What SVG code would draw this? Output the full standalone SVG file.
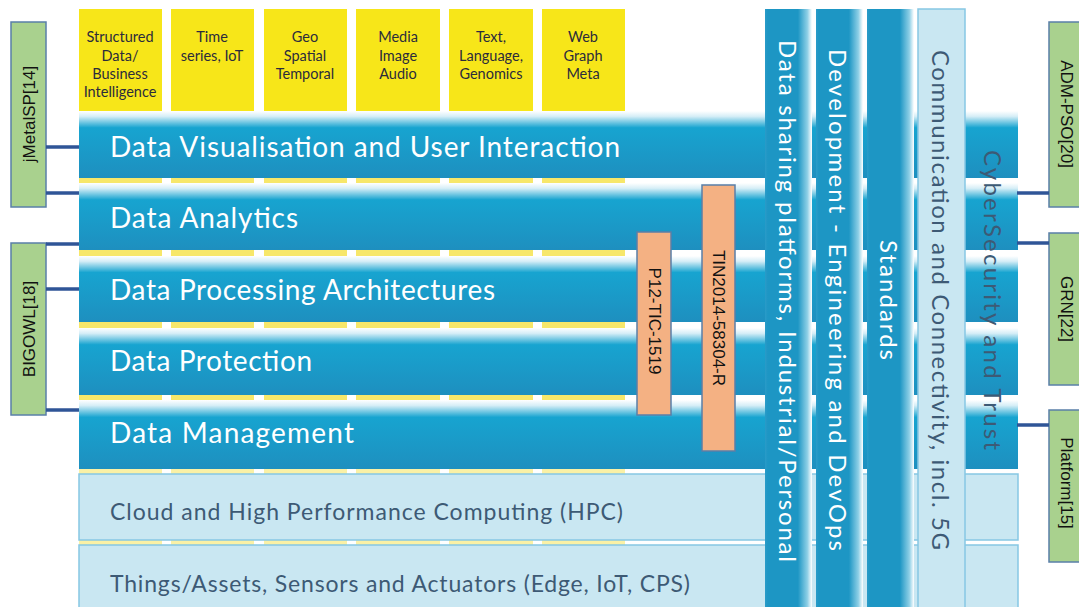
<svg xmlns="http://www.w3.org/2000/svg" width="1079" height="607" viewBox="0 0 1079 607">
<defs>
<linearGradient id="band" x1="0" y1="0" x2="0" y2="1">
<stop offset="0" stop-color="#ffffff"/>
<stop offset="0.08" stop-color="#d6eef7"/>
<stop offset="0.25" stop-color="#17a4d0"/>
<stop offset="1" stop-color="#1e8fbf"/>
</linearGradient>
<linearGradient id="col" x1="0" y1="0" x2="1" y2="0">
<stop offset="0" stop-color="#2a9bc8"/>
<stop offset="0.06" stop-color="#1d96c4"/>
<stop offset="0.7" stop-color="#1d96c4"/>
<stop offset="0.9" stop-color="#8dcfe6"/>
<stop offset="1" stop-color="#ffffff"/>
</linearGradient>
<style>
.yb{fill:#f7e619}
.ys{fill:#f7e76a}
.band{fill:url(#band)}
.lb{fill:#c9e7f2;stroke:#86c7e4;stroke-width:1.5}
.col{fill:url(#col)}
.green{fill:#a9d18e;stroke:#5a7fa8;stroke-width:1.5}
.orange{fill:#f4b183;stroke:#5a7fa8;stroke-width:1.5}
.conn{stroke:#2f5597;stroke-width:3.5;fill:none}
.yt{font-family:Lato,"Liberation Sans",sans-serif;font-size:14.5px;fill:#2b2b3c;text-anchor:middle}
.bt{font-family:Lato,"Liberation Sans",sans-serif;font-size:28px;fill:#ffffff}
.lt{font-family:Lato,"Liberation Sans",sans-serif;font-size:23px;fill:#3d5a75}
.vt{font-family:Lato,"Liberation Sans",sans-serif;font-size:24px;fill:#ffffff;text-anchor:middle;dominant-baseline:central}
.vd{font-family:Lato,"Liberation Sans",sans-serif;font-size:24px;fill:#3d5a75;text-anchor:middle;dominant-baseline:central}
.gt{font-family:"Liberation Sans",sans-serif;font-size:17px;fill:#111111;text-anchor:middle;dominant-baseline:central}
</style>
</defs>
<rect width="1079" height="607" fill="#ffffff"/>

<g id="data-types">
<rect class="yb" x="79" y="9" width="83" height="170"/>
<rect class="yb" x="171" y="9" width="83" height="170"/>
<rect class="yb" x="264" y="9" width="83" height="170"/>
<rect class="yb" x="356" y="9" width="84" height="170"/>
<rect class="yb" x="449" y="9" width="84" height="170"/>
<rect class="yb" x="542" y="9" width="83" height="170"/>
<g id="strips">
<rect class="ys" x="79" y="178" width="83" height="6"/><rect class="ys" x="171" y="178" width="83" height="6"/><rect class="ys" x="264" y="178" width="83" height="6"/><rect class="ys" x="356" y="178" width="84" height="6"/><rect class="ys" x="449" y="178" width="84" height="6"/><rect class="ys" x="542" y="178" width="83" height="6"/>
<rect class="ys" x="79" y="250" width="83" height="6"/><rect class="ys" x="171" y="250" width="83" height="6"/><rect class="ys" x="264" y="250" width="83" height="6"/><rect class="ys" x="356" y="250" width="84" height="6"/><rect class="ys" x="449" y="250" width="84" height="6"/><rect class="ys" x="542" y="250" width="83" height="6"/>
<rect class="ys" x="79" y="322" width="83" height="6"/><rect class="ys" x="171" y="322" width="83" height="6"/><rect class="ys" x="264" y="322" width="83" height="6"/><rect class="ys" x="356" y="322" width="84" height="6"/><rect class="ys" x="449" y="322" width="84" height="6"/><rect class="ys" x="542" y="322" width="83" height="6"/>
<rect class="ys" x="79" y="395" width="83" height="6"/><rect class="ys" x="171" y="395" width="83" height="6"/><rect class="ys" x="264" y="395" width="83" height="6"/><rect class="ys" x="356" y="395" width="84" height="6"/><rect class="ys" x="449" y="395" width="84" height="6"/><rect class="ys" x="542" y="395" width="83" height="6"/>
<rect class="ys" x="79" y="469" width="83" height="5" opacity="0.6"/><rect class="ys" x="171" y="469" width="83" height="5" opacity="0.6"/><rect class="ys" x="264" y="469" width="83" height="5" opacity="0.6"/><rect class="ys" x="356" y="469" width="84" height="5" opacity="0.6"/><rect class="ys" x="449" y="469" width="84" height="5" opacity="0.6"/><rect class="ys" x="542" y="469" width="83" height="5" opacity="0.6"/>
<rect class="ys" x="79" y="540" width="83" height="5" opacity="0.6"/><rect class="ys" x="171" y="540" width="83" height="5" opacity="0.6"/><rect class="ys" x="264" y="540" width="83" height="5" opacity="0.6"/><rect class="ys" x="356" y="540" width="84" height="5" opacity="0.6"/><rect class="ys" x="449" y="540" width="84" height="5" opacity="0.6"/><rect class="ys" x="542" y="540" width="83" height="5" opacity="0.6"/>
</g>
<text class="yt"><tspan x="120" y="42">Structured</tspan><tspan x="120" y="61">Data/</tspan><tspan x="120" y="79">Business</tspan><tspan x="120" y="97">Intelligence</tspan></text>
<text class="yt"><tspan x="212" y="42">Time</tspan><tspan x="212" y="61">series, IoT</tspan></text>
<text class="yt"><tspan x="305" y="42">Geo</tspan><tspan x="305" y="61">Spatial</tspan><tspan x="305" y="79">Temporal</tspan></text>
<text class="yt"><tspan x="398" y="42">Media</tspan><tspan x="398" y="61">Image</tspan><tspan x="398" y="79">Audio</tspan></text>
<text class="yt"><tspan x="491" y="42">Text,</tspan><tspan x="491" y="61">Language,</tspan><tspan x="491" y="79">Genomics</tspan></text>
<text class="yt"><tspan x="583" y="42">Web</tspan><tspan x="583" y="61">Graph</tspan><tspan x="583" y="79">Meta</tspan></text>
</g>

<g id="band-visualisation"><rect class="band" x="79" y="111" width="939" height="67"/><text class="bt" x="110" y="157" textLength="510">Data Visualisation and User Interaction</text></g>
<g id="band-analytics"><rect class="band" x="79" y="183" width="939" height="67"/><text class="bt" x="110" y="228" textLength="188">Data Analytics</text></g>
<g id="band-processing"><rect class="band" x="79" y="256" width="939" height="66"/><text class="bt" x="110" y="300" textLength="385">Data Processing Architectures</text></g>
<g id="band-protection"><rect class="band" x="79" y="328" width="939" height="67"/><text class="bt" x="110" y="371" textLength="202">Data Protection</text></g>
<g id="band-management"><rect class="band" x="79" y="400" width="939" height="69"/><text class="bt" x="110" y="443" textLength="244">Data Management</text></g>
<g id="band-cloud"><rect class="lb" x="79" y="474" width="939" height="66"/><text class="lt" x="110" y="520" textLength="513">Cloud and High Performance Computing (HPC)</text></g>
<g id="band-things"><rect class="lb" x="79" y="545" width="939" height="66"/><text class="lt" x="110" y="592" textLength="580">Things/Assets, Sensors and Actuators (Edge, IoT, CPS)</text></g>

<g id="col-datasharing"><rect class="col" x="765" y="9" width="47" height="598"/><text class="vt" transform="translate(788,301) rotate(90)" textLength="522">Data sharing platforms, Industrial/Personal</text></g>
<g id="col-devops"><rect class="col" x="816" y="9" width="47" height="598"/><text class="vt" transform="translate(838,300) rotate(90)" textLength="502">Development - Engineering and DevOps</text></g>
<g id="col-standards"><rect class="col" x="867" y="9" width="47" height="598"/><text class="vt" transform="translate(889,300) rotate(90)" textLength="120">Standards</text></g>
<g id="col-communication"><rect class="lb" x="918" y="9" width="47" height="600"/><text class="vd" transform="translate(941,300) rotate(90)" textLength="500">Communication and Connectivity, incl. 5G</text></g>
<g id="col-cybersecurity"><text class="vd" transform="translate(993,300) rotate(90)" textLength="300">CyberSecurity and Trust</text></g>

<g id="box-p12"><rect class="orange" x="637" y="232" width="34" height="183"/><text class="gt" transform="translate(654,321) rotate(90)">P12-TIC-1519</text></g>
<g id="box-tin"><rect class="orange" x="702" y="185" width="33" height="266"/><text class="gt" transform="translate(718,318) rotate(90)">TIN2014-58304-R</text></g>

<g id="box-jmetalsp"><rect class="green" x="11" y="22" width="35" height="185"/><text class="gt" transform="translate(29,114) rotate(-90)">jMetalSP[14]</text></g>
<g id="box-bigowl"><rect class="green" x="11" y="243" width="35" height="172"/><text class="gt" transform="translate(29,329) rotate(-90)">BIGOWL[18]</text></g>
<g id="box-admpso"><rect class="green" x="1049" y="22" width="35" height="185"/><text class="gt" transform="translate(1066,114) rotate(90)">ADM-PSO[20]</text></g>
<g id="box-grn"><rect class="green" x="1049" y="233" width="35" height="152"/><text class="gt" transform="translate(1066,309) rotate(90)">GRN[22]</text></g>
<g id="box-platform"><rect class="green" x="1049" y="410" width="35" height="152"/><text class="gt" transform="translate(1066,483) rotate(90)">Platform[15]</text></g>

<g id="connectors">
<line class="conn" x1="46" y1="147" x2="79" y2="147"/>
<line class="conn" x1="46" y1="193" x2="79" y2="193"/>
<line class="conn" x1="46" y1="244" x2="79" y2="244"/>
<line class="conn" x1="46" y1="289" x2="79" y2="289"/>
<line class="conn" x1="46" y1="410" x2="79" y2="410"/>
<line class="conn" x1="1017" y1="193" x2="1049" y2="193"/>
<line class="conn" x1="1017" y1="243" x2="1049" y2="243"/>
<line class="conn" x1="1017" y1="425" x2="1049" y2="425"/>
</g>
</svg>
